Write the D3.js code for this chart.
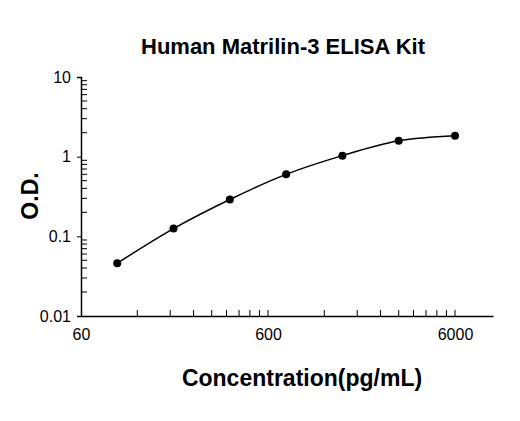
<!DOCTYPE html>
<html><head><meta charset="utf-8">
<script src="https://cdn.jsdelivr.net/npm/d3@7"></script>
<style>body{margin:0;background:#fff}</style></head>
<body><div id="chart"></div>
<script>
const conc = [93.75, 187.5, 375, 750, 1500, 3000, 6000];
const od = [0.046, 0.125, 0.29, 0.6, 1.03, 1.58, 1.83];
const xTicks = [60, 600, 6000];
const yTicks = [0.01, 0.1, 1, 10];

const font = "Liberation Sans, Arial, sans-serif";
const svg = d3.select("#chart").append("svg").attr("width", 520).attr("height", 421);

const x = d3.scaleLog().domain([60, 60 * Math.pow(10, 412 / 187)]).range([81, 493]);
const y = d3.scaleLog().domain([0.01, 10]).range([316, 77]);

// minor ticks
const minorX = [];
[60, 600].forEach(b => { for (let k = 2; k <= 10; k++) minorX.push(b * k); });
const minorY = [];
[0.01, 0.1, 1].forEach(b => { for (let k = 2; k <= 9; k++) minorY.push(b * k); });

svg.append("g").selectAll("line").data(minorX).enter().append("line")
  .attr("x1", d => x(d)).attr("x2", d => x(d)).attr("y1", 316).attr("y2", 310)
  .attr("stroke", "#000").attr("stroke-width", 1);
svg.append("g").selectAll("line").data(minorY).enter().append("line")
  .attr("x1", 81).attr("x2", 87).attr("y1", d => y(d)).attr("y2", d => y(d))
  .attr("stroke", "#000").attr("stroke-width", 1);

svg.append("g").attr("transform", "translate(0,316)")
  .call(d3.axisBottom(x).tickValues(xTicks).tickFormat(d3.format("d")).tickSize(0).tickPadding(13))
  .call(a => a.select(".domain").attr("stroke-width", 1.5))
  .selectAll("text").attr("font-size", "16px").attr("font-family", font);

svg.append("g").attr("transform", "translate(81,0)")
  .call(d3.axisLeft(y).tickValues(yTicks).tickFormat(d => d >= 1 ? d3.format("d")(d) : d).tickSize(4).tickPadding(6))
  .call(a => a.select(".domain").attr("stroke-width", 1.5))
  .selectAll("text").attr("font-size", "16px").attr("font-family", font);

const pts = conc.map((c, i) => [x(c), y(od[i])]);
svg.append("path").attr("d", d3.line().curve(d3.curveMonotoneX)(pts))
  .attr("fill", "none").attr("stroke", "#000").attr("stroke-width", 1.5);
svg.selectAll("circle.pt").data(pts).enter().append("circle")
  .attr("cx", d => d[0]).attr("cy", d => d[1]).attr("r", 4).attr("fill", "#000");

svg.append("text").attr("x", 283).attr("y", 54).attr("text-anchor", "middle")
  .attr("font-family", font).attr("font-weight", "bold").attr("font-size", "22px")
  .text("Human Matrilin-3 ELISA Kit");
svg.append("text").attr("x", 302).attr("y", 386).attr("text-anchor", "middle")
  .attr("font-family", font).attr("font-weight", "bold").attr("font-size", "23px")
  .text("Concentration(pg/mL)");
svg.append("text").attr("transform", "translate(38,196) rotate(-90)").attr("text-anchor", "middle")
  .attr("font-family", font).attr("font-weight", "bold").attr("font-size", "23px")
  .text("O.D.");
</script></body></html>
